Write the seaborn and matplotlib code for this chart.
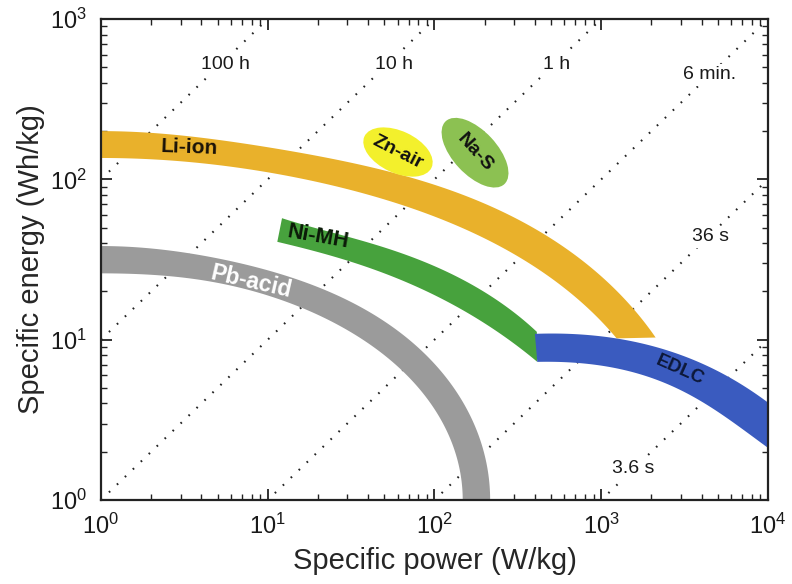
import numpy as np
import pandas as pd
import matplotlib
matplotlib.use("Agg")
import matplotlib.pyplot as plt
import seaborn as sns
from matplotlib.patches import Ellipse
from matplotlib.transforms import ScaledTranslation

# ---------------- data ----------------
# Li-ion band: outer (upper) edge and inner (lower) edge, power W/kg, energy Wh/kg
li_outer_p = [1.0, 3.93, 9.9, 27.1, 68.4, 170, 326, 566, 984, 1487, 2044]
li_outer_e = [197, 184, 161, 132, 103, 74.3, 54.2, 40.1, 26.4, 16.9, 10.2]
li_inner_p = [1.0, 3.93, 9.9, 27.1, 68.4, 170, 326, 566, 893, 1243]
li_inner_e = [136, 126, 111, 89.6, 67.2, 46.3, 32.3, 22.6, 14.3, 10.2]

# Ni-MH band
ni_outer_p = [12.2, 16.3, 41.0, 103.5, 257.6, 412]
ni_outer_e = [57.4, 51.9, 40.1, 28.4, 16.5, 11.2]
ni_inner_p = [11.4, 16.3, 41.0, 103.5, 257.6, 412]
ni_inner_e = [40.7, 37.3, 28.0, 18.5, 10.7, 7.26]

# Pb-acid band
pb_outer_p = [1.0, 2.59, 6.19, 10.3, 18.7, 29.9, 47.1, 74.3, 119, 157, 187.5, 206]
pb_outer_e = [37.8, 35.7, 32.3, 27.2, 21.0, 16.9, 13.3, 9.95, 6.2, 3.8, 2.37, 1.0]
pb_inner_p = [1.0, 2.59, 6.19, 10.3, 18.7, 29.9, 59.6, 94.0, 129, 148]
pb_inner_e = [26.1, 24.6, 21.9, 18.2, 14.9, 11.8, 6.76, 3.80, 2.37, 1.0]

# EDLC band
ed_outer_p = [412, 566, 1427, 2250, 3550, 5680, 8960, 10000]
ed_outer_e = [11.0, 10.7, 9.95, 9.0, 7.47, 5.85, 4.39, 4.09]
ed_inner_p = [412, 566, 1427, 2250, 3550, 5680, 8130, 10000]
ed_inner_e = [7.26, 7.26, 6.47, 5.45, 4.39, 3.29, 2.47, 2.11]

# Islands (centre power, centre energy)
znair_center = (60.4, 148)
nas_center = (175, 146.6)

# Constant discharge-time lines (hours) and their labels
times_h = [100, 10, 1, 0.1, 0.01, 0.001]
time_labels = ["100 h", "10 h", "1 h", "6 min.", "36 s", "3.6 s"]
time_label_p = [5.6, 57.2, 543, 4490, 4490, 1550]
time_label_e = [524, 524, 524, 448, 43.7, 1.58]

power_range = [1.0, 1e4]

# ---------------- style ----------------
sns.set_theme(style="ticks")
plt.rcParams["font.family"] = ["Liberation Sans", "DejaVu Sans"]
plt.rcParams["mathtext.default"] = "regular"
plt.rcParams["axes.edgecolor"] = "#222222"
plt.rcParams["axes.linewidth"] = 1.6

fig = plt.figure(figsize=(7.92, 5.84), dpi=100)
ax = fig.add_axes([101 / 792, 1 - 500 / 584, 667 / 792, 481 / 584])
ax.set_xscale("log")
ax.set_yscale("log")
ax.set_xlim(1, 1e4)
ax.set_ylim(1, 1e3)

# dotted time lines
for t in times_h:
    df = pd.DataFrame({"P": power_range, "E": [p * t for p in power_range]})
    sns.lineplot(data=df, x="P", y="E", ax=ax, color="#222222", lw=1.5,
                 linestyle=(0, (0.8, 4.5)), zorder=1)
for lab, xp, ye in zip(time_labels, time_label_p, time_label_e):
    ax.text(xp, ye, lab, fontsize=14, ha="center", va="center", color="#1a1a1a", zorder=5,
            bbox=dict(facecolor="white", edgecolor="none", pad=1.5))


def smooth_edge(p, e, deg=3, n=300, cosine=False):
    """Smooth outline through the read points: low-order fit of radius vs angle
    in log-log space (around the lower-left corner of the plot)."""
    u = np.log10(np.asarray(p, float))
    v = np.log10(np.asarray(e, float))
    phi = np.arctan2(v, u)
    r = np.hypot(u, v)
    ph = np.linspace(phi[0], phi[-1], n)
    if cosine:
        A = np.column_stack([np.cos(2 * k * phi) for k in range(deg + 1)])
        c, *_ = np.linalg.lstsq(A, r, rcond=None)
        rr = np.column_stack([np.cos(2 * k * ph) for k in range(deg + 1)]) @ c
    else:
        coef = np.polyfit(phi, r, deg)
        rr = np.polyval(coef, ph)
    return 10 ** (rr * np.cos(ph)), 10 ** (rr * np.sin(ph))


def band(op, oe, ip, ie, color, deg=3, cosine=False):
    ox, oy = smooth_edge(op, oe, deg, cosine=cosine)
    ix, iy = smooth_edge(ip, ie, deg, cosine=cosine)
    xs = np.r_[ox, ix[::-1]]
    ys = np.r_[oy, iy[::-1]]
    ax.fill(xs, ys, color=color, lw=0, zorder=3)


band(pb_outer_p, pb_outer_e, pb_inner_p, pb_inner_e, "#9b9b9b", deg=3, cosine=True)
band(li_outer_p, li_outer_e, li_inner_p, li_inner_e, "#e9b12b", deg=3, cosine=True)
band(ni_outer_p, ni_outer_e, ni_inner_p, ni_inner_e, "#47a23d", deg=3)
band(ed_outer_p, ed_outer_e, ed_inner_p, ed_inner_e, "#3a5bbf", deg=3)


def island(center, w, h, angle, color):
    tr = fig.dpi_scale_trans + ScaledTranslation(center[0], center[1], ax.transData)
    ax.add_patch(Ellipse((0, 0), w, h, angle=angle, transform=tr,
                         facecolor=color, edgecolor="none", zorder=3))


island(znair_center, 0.74, 0.42, -25, "#f3f02c")
island(nas_center, 0.86, 0.44, -47, "#8cc152")

# band labels
ax.text(3.37, 158, "Li-ion", fontsize=15, fontweight="bold", ha="center", va="center",
        rotation=-2, color="#1a1208", zorder=6)
ax.text(20.0, 43.7, "Ni-MH", fontsize=15.5, fontweight="bold", ha="center", va="center",
        rotation=-10, color="#0b1a08", zorder=6)
ax.text(7.94, 22.9, "Pb-acid", fontsize=16.5, fontweight="bold", ha="center", va="center",
        rotation=-13, color="white", zorder=6)
ax.text(znair_center[0], znair_center[1], "Zn-air", fontsize=14, fontweight="bold",
        ha="center", va="center", rotation=-27, color="#111111", zorder=6)
ax.text(nas_center[0], nas_center[1], "Na-S", fontsize=14, fontweight="bold",
        ha="center", va="center", rotation=-48, color="#111111", zorder=6)
ax.text(2966, 6.47, "EDLC", fontsize=13.5, fontweight="bold", ha="center", va="center",
        rotation=-24, color="#0d1838", zorder=6)

# axes cosmetics
ax.set_xlabel("Specific power (W/kg)", fontsize=21, labelpad=6)
ax.set_ylabel("Specific energy (Wh/kg)", fontsize=21, labelpad=4)
ax.tick_params(which="both", direction="in", top=True, right=True, colors="#222222",
               labelcolor="#1a1a1a", labelsize=17)
ax.tick_params(which="major", length=8, width=1.3, pad=10)
ax.tick_params(which="minor", length=4.5, width=1.0)
for s in ax.spines.values():
    s.set_zorder(10)

fig.savefig("out.png", dpi=100)
